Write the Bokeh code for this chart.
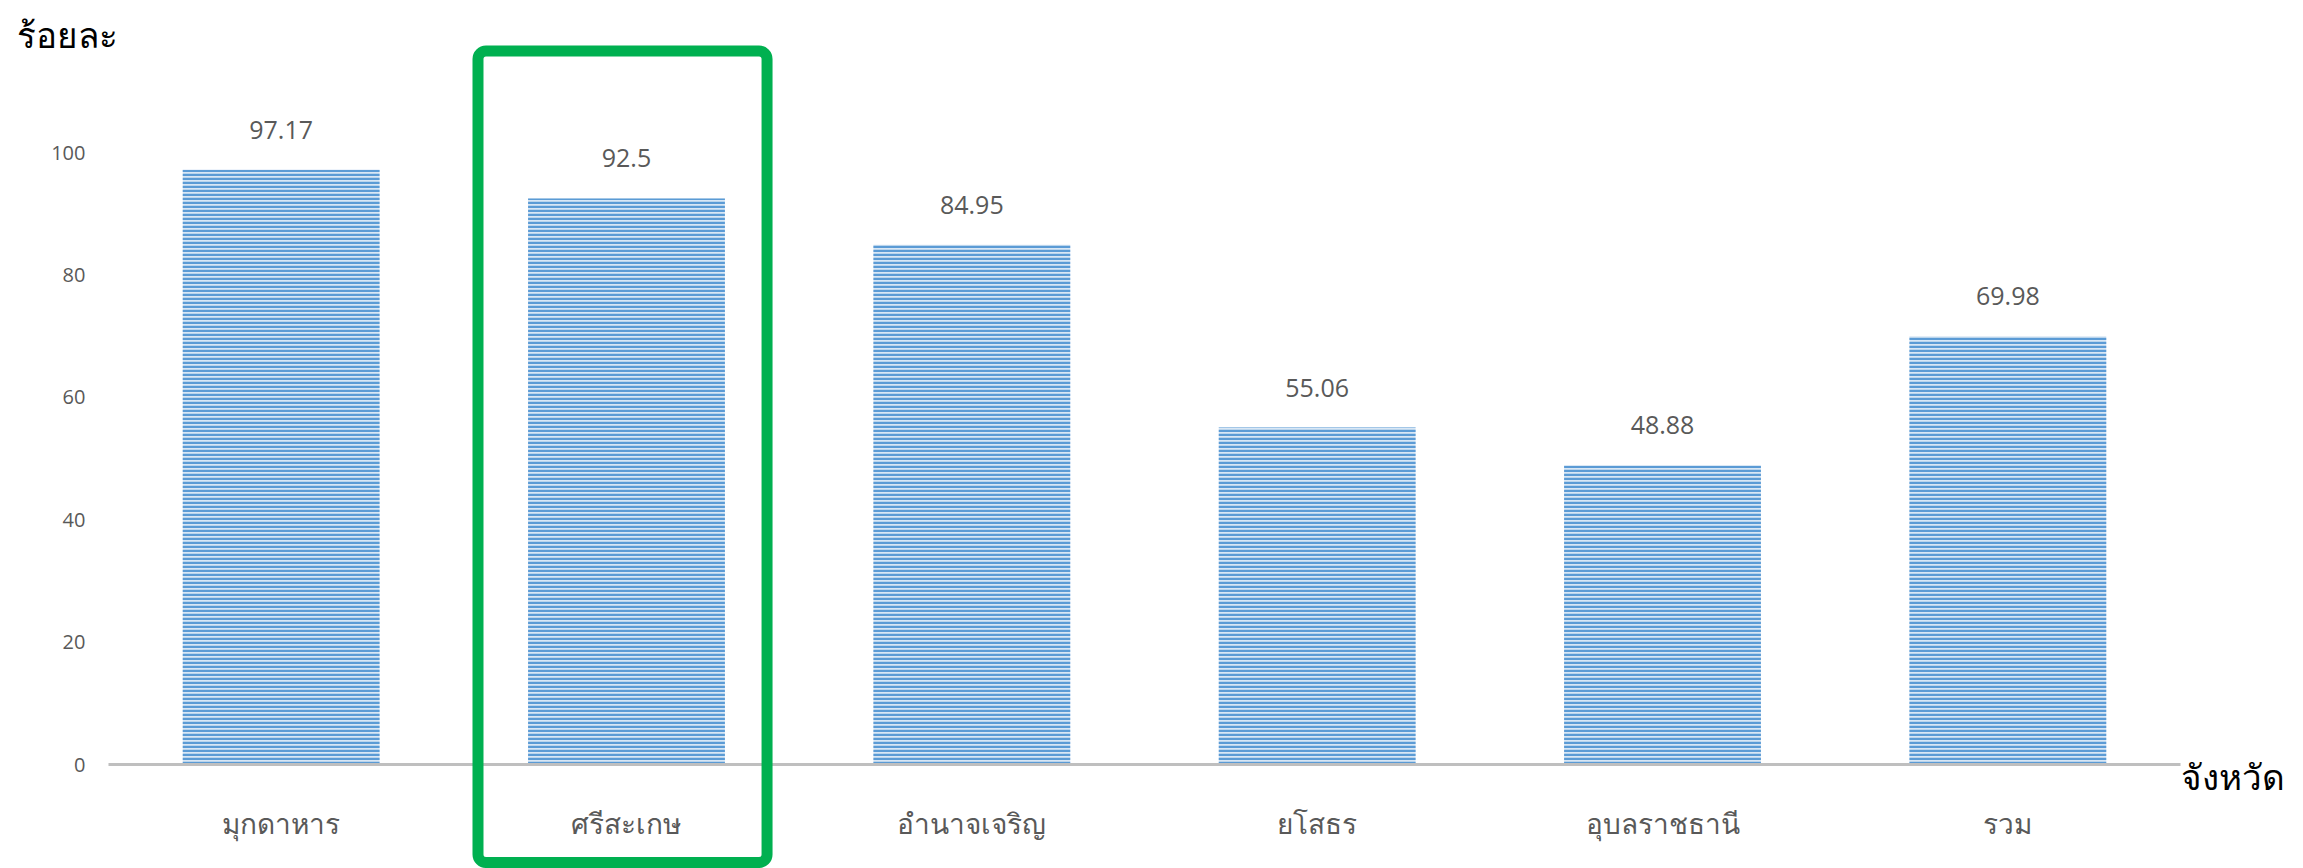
from bokeh.plotting import figure
from bokeh.models import ColumnDataSource, FixedTicker, Label, BoxAnnotation, LabelSet, FactorRange, Range1d
from bokeh.core.properties import value
from bokeh.embed import file_html
from bokeh.resources import INLINE

provinces = ["มุกดาหาร", "ศรีสะเกษ", "อำนาจเจริญ", "ยโสธร", "อุบลราชธานี", "รวม"]
values = [97.17, 92.5, 84.95, 55.06, 48.88, 69.98]
y_ticks = [0, 20, 40, 60, 80, 100]
y_title = "ร้อยละ"
x_title = "จังหวัด"

src = ColumnDataSource(dict(x=provinces, top=values, lab=[str(v) for v in values]))

W, H = 2303, 868
PAD = 0.3127  # category-range padding (synthetic units)
p = figure(x_range=FactorRange(*provinces, range_padding=PAD, range_padding_units="absolute"),
           y_range=Range1d(-16.99, 124.84), width=W, height=H,
           output_backend="svg", toolbar_location=None,
           min_border_left=0, min_border_right=15, min_border_top=0, min_border_bottom=0)
p.outline_line_color = None
p.grid.grid_line_color = None
p.background_fill_color = "white"
p.border_fill_color = "white"

p.vbar(x="x", top="top", width=0.57, source=src, fill_color="#d9e7f5", line_color=None,
       hatch_pattern="-", hatch_color="#5b9bd5", hatch_scale=4, hatch_weight=2.5)

# baseline (category axis line) from first to last category edge
p.segment(x0=[0], y0=[0], x1=[len(provinces)], y1=[0], line_color="#bfbfbf", line_width=3)

labels = LabelSet(x="x", y="top", text="lab", source=src, text_align="center",
                  text_baseline="alphabetic", y_offset=31, text_font=value("Open Sans"),
                  text_font_size=value("25px"), text_color="#595959")
p.add_layout(labels)

p.yaxis.fixed_location = 0
p.yaxis.ticker = FixedTicker(ticks=y_ticks)
p.yaxis.axis_line_color = None
p.yaxis.major_tick_line_color = None
p.yaxis.minor_tick_line_color = None
p.yaxis.major_label_standoff = 17
p.yaxis.major_label_text_font = "Open Sans"
p.yaxis.major_label_text_font_size = "20px"
p.yaxis.major_label_text_color = "#595959"

p.xaxis.fixed_location = 0
p.xaxis.axis_line_color = None
p.xaxis.major_tick_line_color = None
p.xaxis.minor_tick_line_color = None
p.xaxis.major_label_standoff = 33
p.xaxis.major_label_text_font = "Noto Sans"
p.xaxis.major_label_text_font_size = "28px"
p.xaxis.major_label_text_color = "#595959"

p.add_layout(Label(x=-0.2635, y=119.28, text=y_title, text_font="Noto Sans",
                   text_font_size="35px", text_font_style="normal", text_color="black",
                   text_baseline="middle"))
p.add_layout(Label(x=6.0, y=-1.88, text=x_title, text_font="Noto Sans",
                   text_font_size="35px", text_font_style="normal", text_color="black",
                   text_baseline="middle"))

p.add_layout(BoxAnnotation(left=1.070, right=1.907, top=116.58, bottom=-16.01,
                           fill_alpha=0, line_color="#00b050", line_alpha=1.0, line_width=11,
                           border_radius=8, level="overlay"))

open("out.html", "w").write(file_html(p, INLINE))
